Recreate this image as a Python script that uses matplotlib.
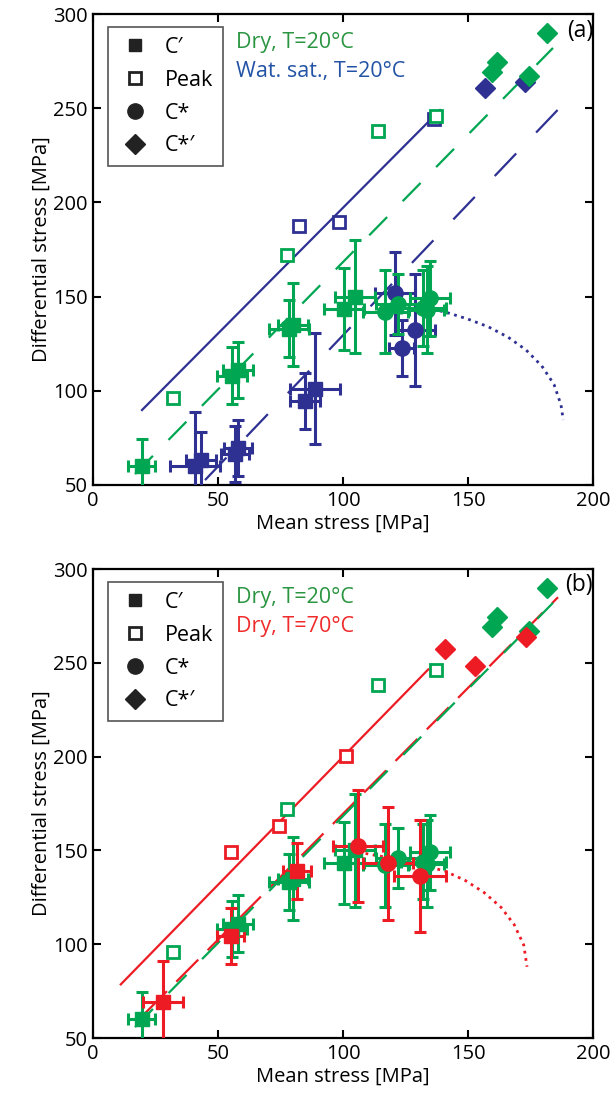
import matplotlib
matplotlib.use('Agg')
import matplotlib.pyplot as plt
from matplotlib.lines import Line2D

plt.rcParams['font.family'] = ['Open Sans', 'DejaVu Sans']

# colours
green = '#00a651'
blue = '#2e3192'
red = '#ed1c24'

# ---- Dry, T=20C (green, shown in both panels) ----
dry20_cp_x = [19.5, 55.5, 58.0, 78.5, 80.0, 100.4, 104.8]
dry20_cp_y = [60.0, 108.0, 111.0, 133.0, 135.0, 143.4, 150.0]
dry20_cp_xerr = [5.4, 6.0, 6.0, 8.0, 6.0, 8.0, 8.0]
dry20_cp_yerr = [14.5, 15.0, 15.0, 15.0, 22.0, 22.0, 30.0]
dry20_cs_x = [116.8, 122.0, 132.0, 134.8, 133.5]
dry20_cs_y = [142.0, 146.0, 144.0, 149.0, 143.0]
dry20_cs_xerr = [9.0, 9.0, 9.0, 8.0, 7.0]
dry20_cs_yerr = [22.0, 16.0, 20.0, 20.0, 23.0]
dry20_peak_x = [32.0, 77.5, 114.0, 137.0]
dry20_peak_y = [96.0, 172.0, 238.0, 246.0]
dry20_csp_x = [159.5, 161.5, 174.2, 181.5]
dry20_csp_y = [269.0, 274.5, 267.0, 290.0]
dry20_fit_x = [16.8, 184.0]
dry20_fit_y = [55.8, 282.0]

# ---- Water saturated, T=20C (blue, panel a) ----
wet_cp_x = [40.8, 43.0, 56.8, 58.0, 84.8, 88.8]
wet_cp_y = [60.0, 63.0, 66.5, 69.6, 94.7, 101.0]
wet_cp_xerr = [10.0, 6.0, 5.5, 5.5, 6.0, 10.0]
wet_cp_yerr = [28.7, 15.0, 15.0, 15.0, 15.0, 29.5]
wet_cs_x = [120.8, 128.8, 123.5]
wet_cs_y = [151.7, 132.3, 122.6]
wet_cs_xerr = [8.0, 8.0, 5.0]
wet_cs_yerr = [22.0, 29.5, 15.0]
wet_peak_x = [82.4, 98.5, 136.5]
wet_peak_y = [187.5, 189.8, 244.3]
wet_csp_x = [156.8, 172.8]
wet_csp_y = [260.5, 264.0]
wet_peak_fit_x = [19.6, 138.8]
wet_peak_fit_y = [89.8, 249.0]
wet_fit_x = [44.8, 191.9]
wet_fit_y = [52.6, 257.5]
wet_cap_x = [133.0, 141.2, 149.9, 158.1, 166.1, 173.2, 179.5, 184.4, 187.2, 188.1]
wet_cap_y = [144.0, 141.7, 138.1, 134.0, 128.4, 121.7, 113.2, 103.4, 92.5, 84.5]

# ---- Dry, T=70C (red, panel b) ----
dry70_cp_x = [28.1, 55.0, 81.7]
dry70_cp_y = [69.0, 104.4, 139.0]
dry70_cp_xerr = [8.0, 5.5, 5.6]
dry70_cp_yerr = [22.0, 15.0, 15.0]
dry70_cs_x = [106.1, 117.9, 130.8]
dry70_cs_y = [152.3, 143.1, 136.4]
dry70_cs_xerr = [10.0, 10.0, 10.5]
dry70_cs_yerr = [30.0, 30.0, 30.0]
dry70_peak_x = [55.1, 74.4, 101.2]
dry70_peak_y = [149.3, 163.2, 200.3]
dry70_csp_x = [140.8, 152.8, 173.1]
dry70_csp_y = [257.2, 248.3, 263.6]
dry70_peak_fit_x = [11.1, 134.1]
dry70_peak_fit_y = [78.6, 246.5]
dry70_fit_x = [20.8, 186.0]
dry70_fit_y = [63.2, 285.0]
dry70_cap_x = [109.0, 125.0, 140.8, 148.9, 156.4, 163.2, 168.5, 172.3, 173.6]
dry70_cap_y = [148.4, 144.5, 139.0, 134.0, 127.6, 119.7, 110.4, 99.6, 88.0]

xticks = [0, 50, 100, 150, 200]
yticks = [50, 100, 150, 200, 250, 300]
legend_labels = ['C\u2032', 'Peak', 'C*', 'C*\u2032']


def draw_errs(ax, x, y, xerr, yerr, color, marker, ms):
    ax.errorbar(x, y, xerr=xerr, yerr=yerr, fmt=marker, color=color, ms=ms,
                mec=color, ecolor=color, elinewidth=2.2, capsize=4, capthick=2.2,
                zorder=4)


def draw_set(ax, color, cp, cs, peak, csp):
    draw_errs(ax, *cp, color, 's', 10)
    draw_errs(ax, *cs, color, 'o', 11)
    ax.plot(peak[0], peak[1], 's', ms=9, mfc='white', mec=color, mew=2, zorder=5)
    ax.plot(csp[0], csp[1], 'D', ms=10, color=color, zorder=5)


def setup(ax, label, texts):
    ax.set_xlim(0, 200)
    ax.set_ylim(50, 300)
    ax.set_xticks(xticks)
    ax.set_yticks(yticks)
    ax.tick_params(direction='in', top=True, right=True, length=6, width=1.5,
                   labelsize=14.5, pad=4)
    for s in ax.spines.values():
        s.set_linewidth(1.6)
    ax.set_xlabel('Mean stress [MPa]', fontsize=14.5, labelpad=2)
    ax.set_ylabel('Differential stress [MPa]', fontsize=14.5, labelpad=1)
    ax.text(1.0, 0.965, label, transform=ax.transAxes, ha='right', va='center',
            fontsize=16.5)
    for i, (t, c) in enumerate(texts):
        ax.text(0.285, 0.94 - i * 0.062, t, transform=ax.transAxes, color=c,
                fontsize=15.5, va='center')
    # legend with black marker symbols
    handles = [
        Line2D([], [], ls='none', marker='s', ms=9, color='#222222'),
        Line2D([], [], ls='none', marker='s', ms=9, mfc='white', mec='#222222', mew=2),
        Line2D([], [], ls='none', marker='o', ms=11, color='#222222'),
        Line2D([], [], ls='none', marker='D', ms=10, color='#222222'),
    ]
    leg = ax.legend(handles, legend_labels, loc='upper left',
                    bbox_to_anchor=(0.03, 0.972), borderaxespad=0, fontsize=15.5,
                    fancybox=False, edgecolor='#555555', framealpha=1,
                    handlelength=1.6, handletextpad=0.6, labelspacing=0.55,
                    borderpad=0.45)
    leg.get_frame().set_linewidth(1.2)


fig = plt.figure(figsize=(6.14, 11.05), dpi=100)
ax1 = fig.add_axes([0.1515, 0.5611, 0.8143, 0.4262])
ax2 = fig.add_axes([0.1515, 0.0606, 0.8143, 0.4244])

# Panel (a): dry vs water saturated at 20C
ax1.plot(wet_peak_fit_x, wet_peak_fit_y, color=blue, lw=1.6, zorder=2)
ax1.plot(dry20_fit_x, dry20_fit_y, color=green, lw=1.6, dashes=(11.5, 10), zorder=2)
ax1.plot(wet_fit_x, wet_fit_y, color=blue, lw=1.6, dashes=(14, 13), zorder=2)
ax1.plot(wet_cap_x, wet_cap_y, color=blue, lw=2, ls=':', zorder=2)
draw_set(ax1, blue, (wet_cp_x, wet_cp_y, wet_cp_xerr, wet_cp_yerr),
         (wet_cs_x, wet_cs_y, wet_cs_xerr, wet_cs_yerr),
         (wet_peak_x, wet_peak_y), (wet_csp_x, wet_csp_y))
draw_set(ax1, green, (dry20_cp_x, dry20_cp_y, dry20_cp_xerr, dry20_cp_yerr),
         (dry20_cs_x, dry20_cs_y, dry20_cs_xerr, dry20_cs_yerr),
         (dry20_peak_x, dry20_peak_y), (dry20_csp_x, dry20_csp_y))
setup(ax1, '(a)', [('Dry, T=20°C', '#2a9540'), ('Wat. sat., T=20°C', '#2353a5')])

# Panel (b): dry at 20C vs dry at 70C
ax2.plot(dry70_peak_fit_x, dry70_peak_fit_y, color=red, lw=1.6, zorder=2)
ax2.plot(dry70_fit_x, dry70_fit_y, color=red, lw=1.6, dashes=(14, 6), zorder=2)
ax2.plot(dry20_fit_x, dry20_fit_y, color=green, lw=1.6, dashes=(11.5, 10), zorder=2)
ax2.plot(dry70_cap_x, dry70_cap_y, color=red, lw=2, ls=':', zorder=2)
draw_set(ax2, green, (dry20_cp_x, dry20_cp_y, dry20_cp_xerr, dry20_cp_yerr),
         (dry20_cs_x, dry20_cs_y, dry20_cs_xerr, dry20_cs_yerr),
         (dry20_peak_x, dry20_peak_y), (dry20_csp_x, dry20_csp_y))
draw_set(ax2, red, (dry70_cp_x, dry70_cp_y, dry70_cp_xerr, dry70_cp_yerr),
         (dry70_cs_x, dry70_cs_y, dry70_cs_xerr, dry70_cs_yerr),
         (dry70_peak_x, dry70_peak_y), (dry70_csp_x, dry70_csp_y))
setup(ax2, '(b)', [('Dry, T=20°C', '#2a9540'), ('Dry, T=70°C', '#ef2b2b')])

fig.savefig('out.png', dpi=100)
